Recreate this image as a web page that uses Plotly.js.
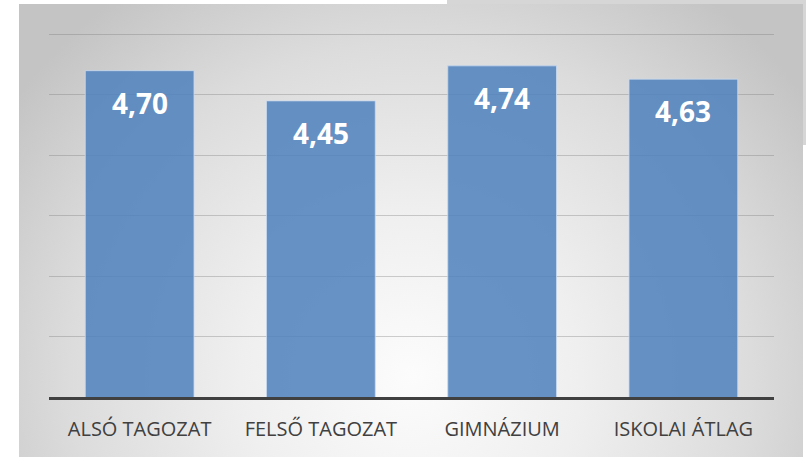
<!DOCTYPE html>
<html>
<head>
<meta charset="utf-8">
<script src="https://cdn.plot.ly/plotly-3.0.1.min.js"></script>
<style>
  html, body { margin: 0; padding: 0; background: #ffffff; }
  #wrap { position: relative; width: 806px; height: 457px; overflow: hidden; }
  #shadow { position: absolute; left: 447px; top: 0; width: 359px; height: 145px; background: #d6d6d6; }
  #box { position: absolute; left: 19px; top: 4px; width: 784px; height: 453px;
         background: radial-gradient(ellipse 62% 105% at 50% 82%, #fcfcfc 0%, #efefef 35%, #dcdcdc 70%, #c4c4c4 100%); }
  #chart { position: absolute; left: 0; top: 0; width: 806px; height: 457px; }
</style>
</head>
<body>
<div id="wrap">
  <div id="shadow"></div>
  <div id="box"></div>
  <div id="chart"></div>
</div>
<script>
const categories = ['ALSÓ TAGOZAT', 'FELSŐ TAGOZAT', 'GIMNÁZIUM', 'ISKOLAI ÁTLAG'];
const values = [4.70, 4.45, 4.74, 4.63];
const yTicks = [2, 2.5, 3, 3.5, 4, 4.5, 5];

const fmt = v => v.toFixed(2).replace('.', ',');

const trace = {
  type: 'bar',
  x: categories,
  y: values,
  marker: {
    color: 'rgba(79,129,189,0.86)',
    line: { color: 'rgba(200,218,240,0.8)', width: 1 }
  },
  hoverinfo: 'skip'
};

const annotations = categories.map((c, i) => ({
  x: c,
  y: values[i],
  xref: 'x',
  yref: 'y',
  text: fmt(values[i]),
  showarrow: false,
  yanchor: 'middle',
  yshift: -32,
  font: { family: 'Open Sans, sans-serif', size: 28, color: '#ffffff', weight: 'bold' }
}));

const layout = {
  width: 806,
  height: 457,
  margin: { l: 49, r: 32, t: 32, b: 60 },
  paper_bgcolor: 'rgba(0,0,0,0)',
  plot_bgcolor: 'rgba(0,0,0,0)',
  bargap: 0.4,
  showlegend: false,
  xaxis: {
    type: 'category',
    showgrid: false,
    showline: true,
    linecolor: '#404040',
    linewidth: 3,
    ticks: '',
    ticklabelstandoff: 12,
    tickfont: { family: 'Open Sans, sans-serif', size: 20, color: '#404040' },
    zeroline: false
  },
  yaxis: {
    range: [2, 5.02],
    tickvals: yTicks,
    showticklabels: false,
    showgrid: true,
    gridcolor: 'rgba(120,120,120,0.35)',
    gridwidth: 1,
    zeroline: false,
    showline: false
  },
  annotations: annotations
};

Plotly.newPlot('chart', [trace], layout, { displayModeBar: false, staticPlot: true });
</script>
</body>
</html>
